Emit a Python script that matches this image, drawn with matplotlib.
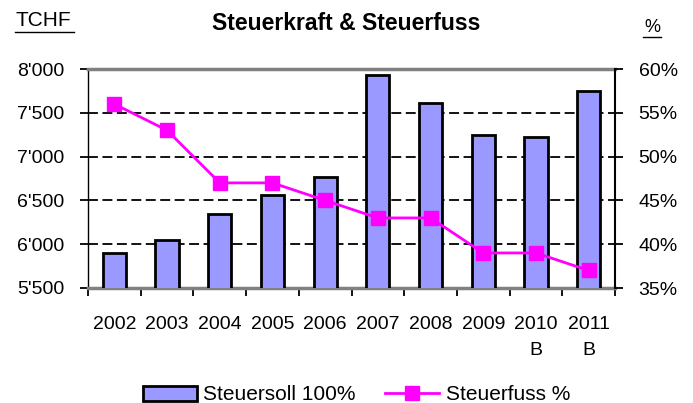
import matplotlib
matplotlib.use("Agg")
import matplotlib.pyplot as plt
from matplotlib.lines import Line2D
from matplotlib.ticker import FuncFormatter, FixedLocator
import numpy as np

# data
years = ["2002", "2003", "2004", "2005", "2006", "2007", "2008", "2009", "2010\nB", "2011\nB"]
steuersoll = [5900, 6050, 6345, 6560, 6770, 7930, 7610, 7250, 7225, 7750]
steuerfuss = [56, 53, 47, 47, 45, 43, 43, 39, 39, 37]
left_ticks = [5500, 6000, 6500, 7000, 7500, 8000]
right_ticks = [35, 40, 45, 50, 55, 60]

plt.rcParams['font.family'] = ['Liberation Sans', 'DejaVu Sans']

bar_col = "#9999FF"
line_col = "#FF00FF"

fig = plt.figure(figsize=(6.93, 4.03), dpi=100)
ax = fig.add_axes([88 / 693, 1 - 288 / 403, (615 - 88) / 693, (288 - 69) / 403])
x = np.arange(len(years))

ax.bar(x, steuersoll, width=0.44, color=bar_col, edgecolor="black", linewidth=2.0, zorder=3)
ax.set_ylim(5500, 8000)
ax.set_xlim(-0.5, len(years) - 0.5)
ax.set_yticks(left_ticks)
ax.yaxis.set_major_formatter(FuncFormatter(lambda v, p: "{0}'{1:03d}".format(int(v) // 1000, int(v) % 1000)))
ax.grid(axis="y", color="black", linestyle=(0, (5.5, 2.5)), linewidth=1.3, zorder=1)

ax.set_xticks(x)
ax.set_xticklabels(years, fontsize=14, linespacing=1.7)
ax.tick_params(axis="x", which="major", length=0, pad=20)
ax.xaxis.set_minor_locator(FixedLocator(np.arange(-0.5, len(years), 1.0)))
ax.tick_params(axis="x", which="minor", length=6, width=1.3, color="black", direction="out")
ax.tick_params(axis="y", labelsize=14, length=6, width=1.3, direction="out", pad=11)

for s in ["top", "bottom"]:
    ax.spines[s].set_color("#808080")
    ax.spines[s].set_linewidth(2.5)
ax.spines["left"].set_linewidth(1.0)
ax.spines["right"].set_visible(False)

ax2 = ax.twinx()
ax2.plot(x, steuerfuss, color=line_col, linewidth=2.0, marker="s", markersize=10,
         markerfacecolor=line_col, markeredgecolor=line_col, zorder=5)
ax2.set_ylim(35, 60)
ax2.set_yticks(right_ticks)
ax2.yaxis.set_major_formatter(FuncFormatter(lambda v, p: "%d%%" % v))
ax2.tick_params(axis="y", labelsize=14, length=6, width=1.3, direction="out", pad=11)
ax2.spines["right"].set_linewidth(1.5)
for s in ["top", "bottom", "left"]:
    ax2.spines[s].set_visible(False)

# title and unit labels
fig.text(0.5, 1 - 24 / 403, "Steuerkraft & Steuerfuss", fontsize=16.5, fontweight="bold",
         ha="center", va="center")
fig.text(15 / 693, 1 - 21 / 403, "TCHF", fontsize=15, ha="left", va="center")
fig.add_artist(Line2D([15 / 693, 74 / 693], [1 - 32 / 403, 1 - 32 / 403], color="black", linewidth=1.0))
fig.text(652 / 693, 1 - 27 / 403, "%", fontsize=13, ha="center", va="center")
fig.add_artist(Line2D([643 / 693, 661 / 693], [1 - 37 / 403, 1 - 37 / 403], color="black", linewidth=1.0))

# legend, partly cut at the bottom like the original
h_bar = plt.Rectangle((0, 0), 1, 1, facecolor=bar_col, edgecolor="black", linewidth=2.0)
h_line = Line2D([], [], color=line_col, linewidth=2.0, marker="s", markersize=10)
fig.legend([h_bar, h_line], ["Steuersoll 100%", "Steuerfuss %"], loc="center",
           bbox_to_anchor=(0.5 + 10 / 693, 1 - 395 / 403), ncol=2, frameon=False, fontsize=15,
           handlelength=2.6, handletextpad=0.3, columnspacing=1.4)

fig.savefig("out.png", dpi=100)
